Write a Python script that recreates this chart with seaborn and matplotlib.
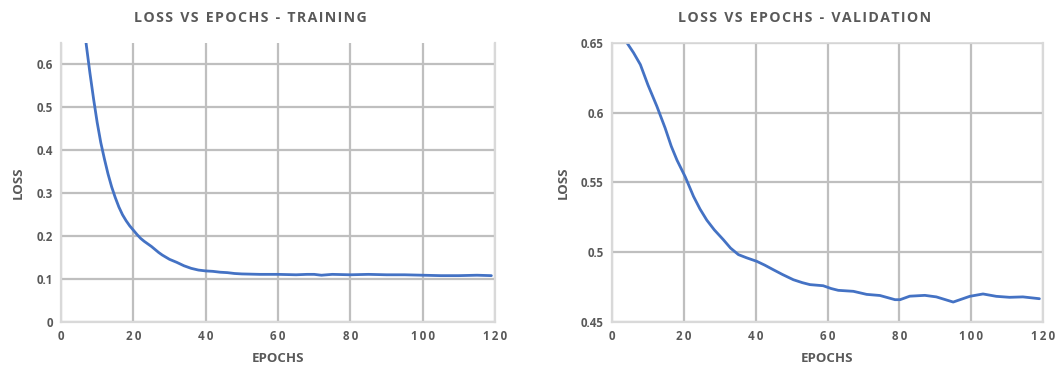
import matplotlib
matplotlib.use("Agg")
import matplotlib.pyplot as plt
import seaborn as sns
import pandas as pd

train_epochs = [6, 7, 8, 9, 10, 11, 12, 13, 14, 15, 16, 17, 18, 19, 20, 21, 22, 23, 24, 25,
                26, 27, 28, 29, 30, 32, 34, 36, 38, 40, 42, 44, 46, 48, 50, 55, 60, 65, 68,
                70, 72, 75, 80, 85, 90, 95, 100, 105, 110, 115, 119]
train_loss = [0.72, 0.645, 0.58, 0.52, 0.465, 0.418, 0.38, 0.345, 0.315, 0.29, 0.268, 0.25,
              0.236, 0.224, 0.214, 0.204, 0.195, 0.188, 0.182, 0.176, 0.169, 0.162, 0.156,
              0.151, 0.146, 0.139, 0.131, 0.125, 0.121, 0.119, 0.118, 0.116, 0.115, 0.113,
              0.112, 0.111, 0.111, 0.110, 0.111, 0.111, 0.109, 0.111, 0.110, 0.111, 0.110,
              0.110, 0.109, 0.108, 0.108, 0.109, 0.108]

val_epochs = [3, 4.2, 6, 7.9, 10, 12.5, 14.8, 16.5, 18.1, 20.4, 22.7, 24.5, 26.4, 28.5, 31,
              33, 35.2, 37.5, 40.3, 42.5, 44.9, 47.5, 50.5, 53, 55.1, 58.8, 61, 63, 67.2,
              70.9, 74.6, 78.8, 80.2, 82.9, 87.1, 90.3, 95, 99.6, 103.3, 107, 110.7, 114.4, 119]
val_loss = [0.66, 0.65, 0.643, 0.6345, 0.62, 0.6046, 0.589, 0.576, 0.566, 0.554, 0.540,
            0.531, 0.523, 0.516, 0.509, 0.503, 0.4983, 0.496, 0.4935, 0.4908, 0.4875,
            0.484, 0.4803, 0.4782, 0.4768, 0.476, 0.474, 0.4727, 0.472, 0.4698, 0.469,
            0.466, 0.466, 0.4685, 0.4691, 0.468, 0.4643, 0.4684, 0.4701, 0.4684, 0.4677,
            0.468, 0.4667]

x_ticks = [0, 20, 40, 60, 80, 100, 120]
train_yticks = [0, 0.1, 0.2, 0.3, 0.4, 0.5, 0.6]
val_yticks = [0.45, 0.5, 0.55, 0.6, 0.65]

sns.set_theme(style="whitegrid")
plt.rcParams['font.family'] = ['Open Sans', 'DejaVu Sans']

GRAY_TXT = "#595959"
GRID = "#bfbfbf"
SPINE = "#d9d9d9"
LINE = "#4472C4"
THIN = "\u2009"
HAIR = "\u200a"

def spaced(s, sep=HAIR):
    return "  ".join(sep.join(w) for w in s.split(" "))

fig = plt.figure(figsize=(10.64, 3.67), dpi=100)
ax1 = fig.add_axes([61/1064, 45/367, 434/1064, 279/367])
ax2 = fig.add_axes([612/1064, 45/367, 431/1064, 279/367])

df_t = pd.DataFrame({"epoch": train_epochs, "loss": train_loss})
df_v = pd.DataFrame({"epoch": val_epochs, "loss": val_loss})

sns.lineplot(data=df_t, x="epoch", y="loss", ax=ax1, color=LINE, linewidth=2.0)
sns.lineplot(data=df_v, x="epoch", y="loss", ax=ax2, color=LINE, linewidth=2.0)

def style(ax, yticks, ylim, ylabels, title, title_x):
    ax.set_xlim(0, 120)
    ax.set_ylim(*ylim)
    ax.set_xticks(x_ticks)
    ax.set_xticklabels([THIN.join(str(t)) for t in x_ticks])
    ax.set_yticks(yticks)
    ax.set_yticklabels(ylabels)
    ax.grid(True, color=GRID, linewidth=1.6)
    ax.set_axisbelow(True)
    for s in ["left", "bottom", "right"]:
        ax.spines[s].set_visible(True)
        ax.spines[s].set_color(SPINE)
        ax.spines[s].set_linewidth(1.6)
    ax.spines["top"].set_visible(False)
    ax.tick_params(axis="both", length=0, labelsize=8.3, labelcolor=GRAY_TXT, pad=6)
    for lab in ax.get_xticklabels() + ax.get_yticklabels():
        lab.set_fontweight("bold")
    ax.set_xlabel("EPOCHS", fontsize=9.5, fontweight="bold", color=GRAY_TXT, labelpad=6)
    ax.set_ylabel("LOSS", fontsize=9.5, fontweight="bold", color=GRAY_TXT, labelpad=8)
    ax.set_facecolor("white")
    fig.text(title_x, 1 - 18/367, spaced(title), ha="center", va="center", fontsize=10.2,
             fontweight="bold", color=GRAY_TXT)

style(ax1, train_yticks, (0, 0.65), ["0", "0.1", "0.2", "0.3", "0.4", "0.5", "0.6"],
      "LOSS VS EPOCHS - TRAINING", 250/1064)
style(ax2, val_yticks, (0.45, 0.65), ["0.45", "0.5", "0.55", "0.6", "0.65"],
      "LOSS VS EPOCHS - VALIDATION", 805/1064)
ax2.spines["top"].set_visible(True)
ax2.spines["top"].set_color(SPINE)

fig.savefig("out.png", dpi=100, facecolor="white")
